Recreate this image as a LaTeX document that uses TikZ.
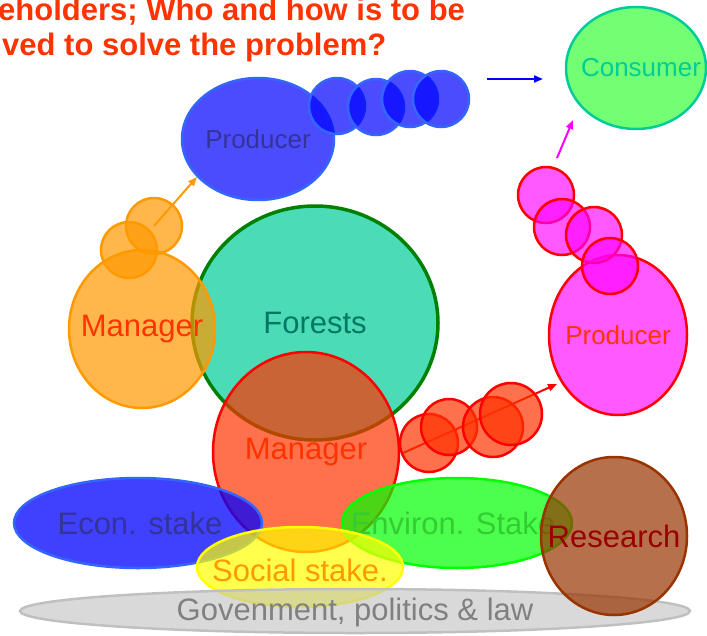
\documentclass[tikz,border=0pt]{standalone}
\usepackage{fontspec}
\setmainfont{Liberation Sans}
\usetikzlibrary{shapes.geometric,arrows.meta}

\definecolor{titlered}{RGB}{255,51,0}
\definecolor{bluefill}{RGB}{0,0,255}
\definecolor{blueline}{RGB}{51,102,255}
\definecolor{bluetext}{RGB}{51,51,153}
\definecolor{consline}{RGB}{0,204,153}
\definecolor{greenfill}{RGB}{0,255,0}
\definecolor{forestfill}{RGB}{0,204,153}
\definecolor{forestline}{RGB}{0,128,0}
\definecolor{foresttext}{RGB}{0,120,100}
\definecolor{orangefill}{RGB}{255,153,0}
\definecolor{redfill}{RGB}{255,51,0}
\definecolor{redline}{RGB}{255,0,0}
\definecolor{pinkfill}{RGB}{255,0,255}
\definecolor{yellowfill}{RGB}{255,255,0}
\definecolor{envtext}{RGB}{51,204,51}
\definecolor{brownfill}{RGB}{153,51,0}
\definecolor{browntext}{RGB}{153,0,0}
\definecolor{greyfill}{RGB}{192,192,192}
\definecolor{greytext}{RGB}{128,128,128}

\begin{document}
\begin{tikzpicture}[x=1pt, y=-1pt,
  blob/.style = {shape=ellipse, draw, line width=2.5pt, inner sep=0pt,
    fill opacity=0.7},
  bubble/.style = {shape=circle, draw, line width=2.5pt, inner sep=0pt,
    minimum size=56pt, fill opacity=0.7},
  every label/.style = {inner sep=0pt, fill opacity=1, text opacity=1,
    font=\fontsize{31}{33}\selectfont},
  small/.style = {font=\fontsize{26}{28}\selectfont},
  link/.style = {line width=2pt, -{Triangle[length=9pt,width=7pt]}}]
  \useasboundingbox (0,0) rectangle (707,635);

  % heading, cut at the left
  \node[anchor=base west, inner sep=0pt, text=titlered,
    font=\bfseries\fontsize{31}{33}\selectfont] (title1) at (-2,20)
    {eholders; Who and how is to be};
  \node[anchor=base west, inner sep=0pt, text=titlered,
    font=\bfseries\fontsize{31}{33}\selectfont] (title2) at (2,55)
    {ved to solve the problem?};

  % forests
  \node[blob, line width=3.5pt, draw=forestline, fill=forestfill,
    minimum width=246pt, minimum height=234pt,
    label={[text=foresttext]center:Forests}] (forests) at (315,323) {};

  % forest manager and the way to the producer
  \node[blob, draw=orangefill, fill=orangefill,
    minimum width=146pt, minimum height=158pt,
    label={[text=titlered]center:Manager}] (fmanager) at (142,329) {};
  \node[bubble, draw=orangefill, fill=orangefill] (ostep1) at (129,250) {};
  \node[bubble, draw=orangefill, fill=orangefill] (ostep2) at (154,226) {};
  \coordinate (otip) at (197,177);
  \draw[link, draw=orangefill] (ostep2.center) -- (otip);

  % producer, upper left
  \node[blob, draw=blueline, fill=bluefill,
    minimum width=152pt, minimum height=122pt,
    label={[small, text=bluetext]center:Producer}] (bproducer) at (258,139) {};
  \node[bubble, draw=blueline, fill=bluefill] (bstep1) at (337,106) {};
  \node[bubble, draw=blueline, fill=bluefill] (bstep2) at (376,107) {};
  \node[bubble, draw=blueline, fill=bluefill] (bstep3) at (410,99) {};
  \node[bubble, draw=blueline, fill=bluefill] (bstep4) at (441,99) {};
  \coordinate (bstart) at (487,79);
  \coordinate (btip) at (543,79);
  \draw[link, draw=bluefill] (bstart) -- (btip);

  % consumer
  \node[blob, draw=consline, fill=greenfill, fill opacity=0.55,
    minimum width=140pt, minimum height=122pt,
    label={[small, text=consline, xshift=5pt]center:Consumer}]
    (consumer) at (636,68) {};

  % manager in the middle
  \node[blob, draw=redline, fill=redfill,
    minimum width=186pt, minimum height=200pt,
    label={[text=titlered]center:Manager}] (manager) at (306,452) {};
  \coordinate (rstart) at (403,453);
  \coordinate (rtip) at (557,384);
  \draw[link, draw=redline] (rstart) -- (rtip);
  \node[bubble, draw=redline, fill=redfill, minimum size=58pt] (rstep1) at (429,443) {};
  \node[bubble, draw=redline, fill=redfill] (rstep2) at (449,427) {};
  \node[bubble, draw=redline, fill=redfill, minimum size=60pt] (rstep3) at (493,427) {};
  \node[bubble, draw=redline, fill=redfill, minimum size=62pt] (rstep4) at (511,414) {};

  % producer, right
  \node[blob, draw=redline, fill=pinkfill, fill opacity=0.65,
    minimum width=138pt, minimum height=160pt,
    label={[small, text=titlered]center:Producer}] (pproducer) at (618,335) {};
  \node[bubble, draw=redline, fill=pinkfill, fill opacity=0.65] (pstep1) at (546,195) {};
  \node[bubble, draw=redline, fill=pinkfill, fill opacity=0.65] (pstep2) at (562,227) {};
  \node[bubble, draw=redline, fill=pinkfill, fill opacity=0.65] (pstep3) at (594,235) {};
  \node[bubble, draw=redline, fill=pinkfill, fill opacity=0.65] (pstep4) at (610,266) {};
  \coordinate (pstart) at (557,158);
  \coordinate (ptip) at (573,120);
  \draw[link, draw=pinkfill] (pstart) -- (ptip);

  % stakes
  \node[blob, draw=blueline, fill=bluefill, fill opacity=0.75,
    minimum width=248pt, minimum height=90pt,
    label={[text=bluetext, xshift=2pt]center:Econ. stake}] (econ) at (138,523) {};
  \node[blob, draw=greenfill, fill=greenfill,
    minimum width=230pt, minimum height=90pt,
    label={[text=envtext, xshift=-4pt]center:Environ. Stake}] (environ) at (457,523) {};
  \node[blob, draw=yellowfill, fill=yellowfill,
    minimum width=206pt, minimum height=80pt,
    label={[text=orangefill, yshift=-3pt]center:Social stake.}] (social) at (300,567) {};

  % law at the bottom
  \node[blob, draw=greyfill, fill=greyfill, fill opacity=0.6,
    minimum width=670pt, minimum height=44pt,
    label={[text=greytext, yshift=-1pt]center:Govenment, politics \& law}]
    (gov) at (355,611) {};

  % research
  \node[blob, draw=brownfill, fill=brownfill,
    minimum width=146pt, minimum height=158pt,
    label={[text=browntext]center:Research}] (research) at (614,536) {};
\end{tikzpicture}
\end{document}
